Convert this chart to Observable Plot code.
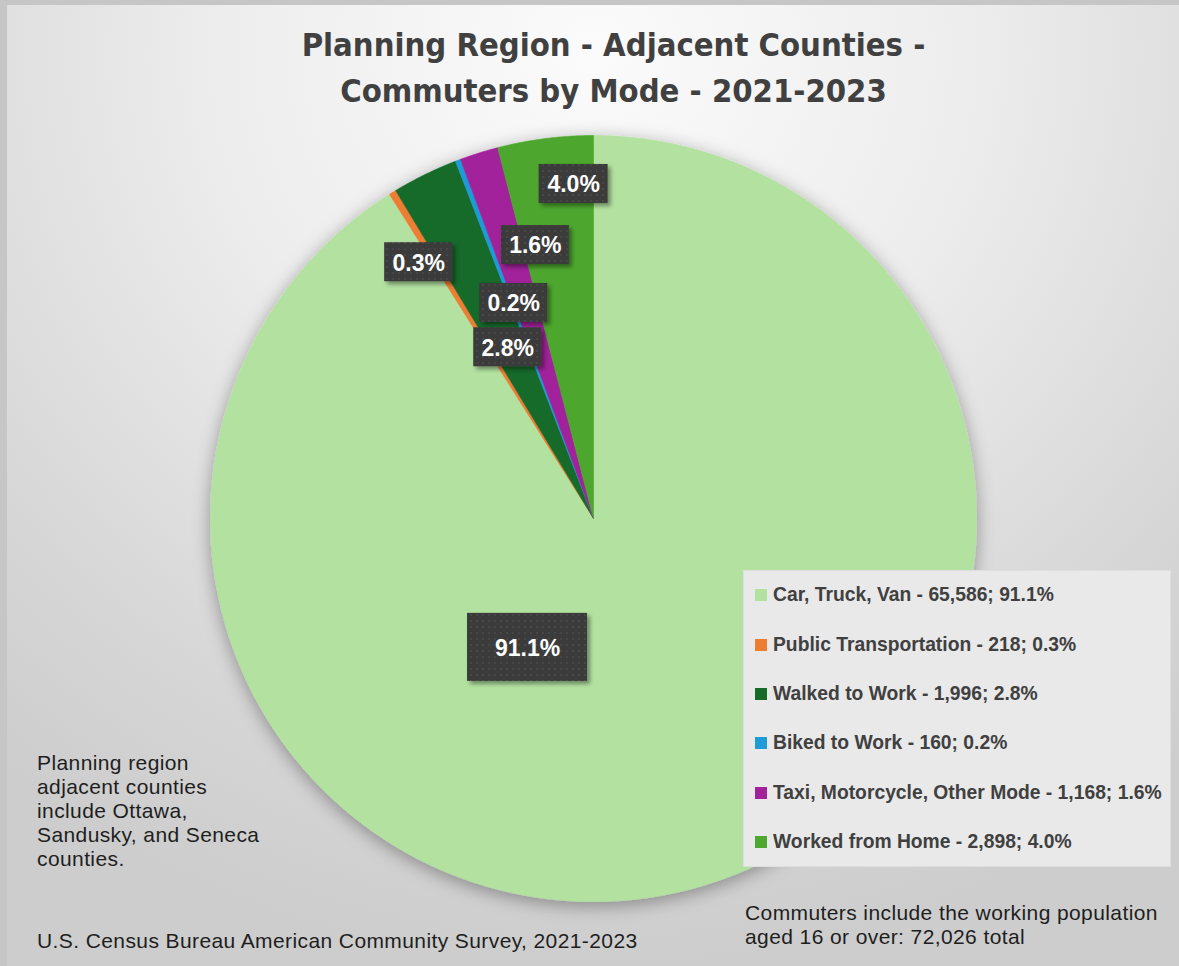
<!DOCTYPE html>
<html>
<head>
<meta charset="utf-8">
<script src="https://cdn.jsdelivr.net/npm/d3@7"></script>
<script src="https://cdn.jsdelivr.net/npm/@observablehq/plot@0.6"></script>
<style>
  html, body { margin: 0; padding: 0; }
  body { width: 1179px; height: 966px; position: relative; overflow: hidden; background: #c6c6c6; }
  #frame { position: absolute; left: 7px; top: 5px; width: 1172px; height: 961px;
    background: radial-gradient(ellipse 80% 95% at 50% 5%, #fbfbfb 0%, #ededed 40%, #d6d6d6 80%, #cdcdcd 100%); }
  #chart { position: absolute; left: 0; top: 0; }
  .title { position: absolute; left: 24px; width: 1179px; text-align: center; top: 22px;
    font-family: "Liberation Sans Narrow", "DejaVu Sans Condensed", sans-serif; font-weight: bold;
    font-size: 32.5px; line-height: 46px; color: #404040; }
  .note { position: absolute; font-family: "Liberation Sans", Arial, sans-serif; font-size: 21px; letter-spacing: 0.4px;
    color: #1e1e1e; line-height: 24px; white-space: nowrap; }
  #legend { position: absolute; left: 743px; top: 570px; width: 428px; height: 297px; background: #e9e9e9;
    box-sizing: border-box; border: 1px solid #dedede; }
  .item { position: absolute; left: 11px; height: 24px; display: flex; align-items: center;
    font-family: "Liberation Sans", Arial, sans-serif; font-weight: bold; font-size: 19.3px; color: #404040; white-space: nowrap; }
  .sw { width: 12px; height: 12px; margin-right: 6px; flex: none; }
</style>
</head>
<body>
<div id="frame"></div>
<svg width="0" height="0" style="position:absolute">
  <defs>
    <pattern id="dots" width="6" height="6" patternUnits="userSpaceOnUse">
      <rect width="6" height="6" fill="#3a3a3a"></rect>
      <circle cx="3" cy="3" r="0.8" fill="#555555"></circle>
    </pattern>
    <filter id="pieShadow" x="-20%" y="-20%" width="140%" height="140%">
      <feDropShadow dx="0" dy="4" stdDeviation="9" flood-color="#000" flood-opacity="0.35"></feDropShadow>
    </filter>
    <filter id="boxShadow" x="-30%" y="-30%" width="160%" height="160%">
      <feDropShadow dx="3" dy="3" stdDeviation="2" flood-color="#000" flood-opacity="0.4"></feDropShadow>
    </filter>
  </defs>
</svg>
<div id="chart"></div>
<div class="title">Planning Region - Adjacent Counties -<br>Commuters by Mode - 2021-2023</div>
<div class="note" style="left:37px; top:751px;">Planning region<br>adjacent counties<br>include Ottawa,<br>Sandusky, and Seneca<br>counties.</div>
<div class="note" style="left:37px; top:929px;">U.S. Census Bureau American Community Survey, 2021-2023</div>
<div class="note" style="left:745px; top:901px;">Commuters include the working population<br>aged 16 or over: 72,026 total</div>
<div id="legend"></div>
<script>
// ---- data ----
const categories = ["Car, Truck, Van", "Public Transportation", "Walked to Work", "Biked to Work", "Taxi, Motorcycle, Other Mode", "Worked from Home"];
const counts = [65586, 218, 1996, 160, 1168, 2898];
const percentLabels = ["91.1%", "0.3%", "2.8%", "0.2%", "1.6%", "4.0%"];
const totalCommuters = 72026;

// ---- style / layout ----
const colors = ["#b3e2a0", "#ed7d31", "#176b29", "#1f9bd7", "#a1229a", "#4ea72e"];
// label placement: polar angle (deg clockwise from 12 o'clock) and radius fraction
const labelAngle = [207.1, 325.7, 333.4, 339.7, 348.0, 356.6];
const labelRadius = [0.378, 0.81, 0.50, 0.60, 0.73, 0.875];
const boxW = [120, 68, 68, 68, 68, 69];
const boxH = [68, 39, 39, 39, 39, 39];
const R = 383; // pixels per unit radius

const arcs = d3.pie().sort(null).value(d => d)(counts);
const slicePts = [];
arcs.forEach((a, i) => {
  slicePts.push({cat: categories[i], x: 0, y: 0});
  const n = Math.max(2, Math.ceil((a.endAngle - a.startAngle) / (Math.PI / 720)));
  for (let k = 0; k <= n; k++) {
    const t = a.startAngle + (a.endAngle - a.startAngle) * k / n;
    slicePts.push({cat: categories[i], x: Math.sin(t), y: Math.cos(t)});
  }
  slicePts.push({cat: categories[i], x: 0, y: 0});
});

const labels = categories.map((c, i) => {
  const t = labelAngle[i] * Math.PI / 180;
  const x = labelRadius[i] * Math.sin(t), y = labelRadius[i] * Math.cos(t);
  const hw = boxW[i] / 2 / R, hh = boxH[i] / 2 / R;
  return {cat: c, text: percentLabels[i], x, y, x1: x - hw, x2: x + hw, y1: y - hh, y2: y + hh};
});

const plot = Plot.plot({
  width: 1179, height: 966,
  marginLeft: 210, marginRight: 203, marginTop: 135, marginBottom: 65,
  x: {domain: [-1, 1], axis: null},
  y: {domain: [-1, 1], axis: null},
  color: {domain: categories, range: colors},
  style: {background: "transparent", overflow: "visible"},
  marks: [
    Plot.line(slicePts, {x: "x", y: "y", z: "cat", fill: "cat", stroke: "cat", strokeWidth: 0.6, curve: "linear"}),
    Plot.rect(labels, {x1: "x1", x2: "x2", y1: "y1", y2: "y2", fill: "url(#dots)"}),
    Plot.text(labels, {x: "x", y: "y", text: "text", fill: "white", fontWeight: "bold", fontSize: 23,
      fontFamily: "Liberation Sans, Arial, sans-serif", dy: 1})
  ]
});
d3.select(plot).selectAll('g[aria-label="line"]').attr("filter", "url(#pieShadow)");
d3.select(plot).selectAll('g[aria-label="rect"]').attr("filter", "url(#boxShadow)");
document.getElementById("chart").appendChild(plot);

// legend
const fmt = d3.format(",");
const legend = d3.select("#legend");
categories.forEach((c, i) => {
  const it = legend.append("div").attr("class", "item").style("top", (12.3 + i * 49.3) + "px");
  it.append("div").attr("class", "sw").style("background", colors[i]);
  it.append("span").text(`${c} - ${fmt(counts[i])}; ${percentLabels[i]}`);
});
</script>
</body>
</html>
